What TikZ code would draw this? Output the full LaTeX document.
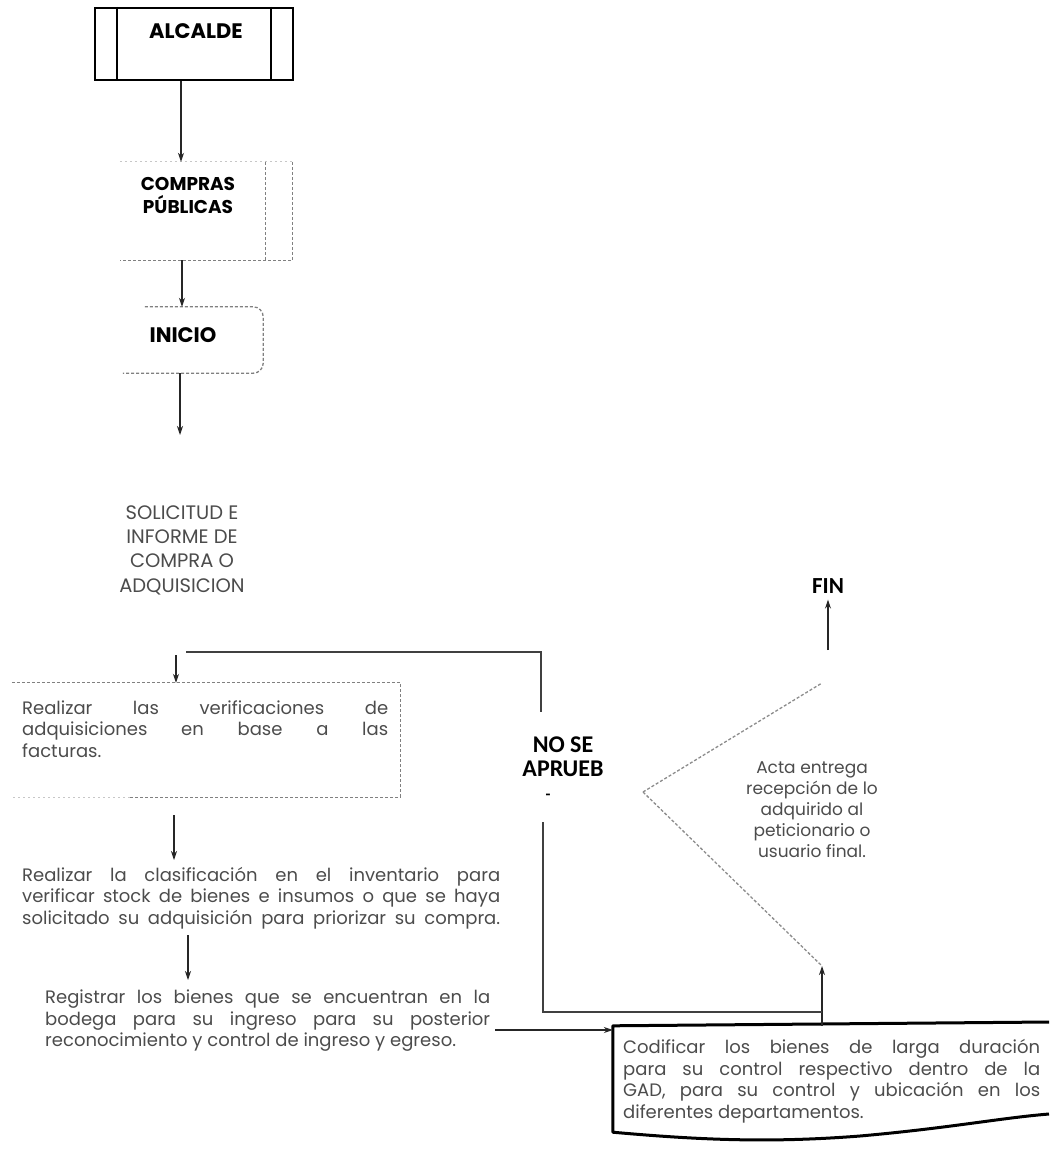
\documentclass[tikz,border=0pt]{standalone}
\usepackage{fontspec}
\setmainfont{Poppins}
\newfontfamily\carl{Carlito}
\usetikzlibrary{arrows.meta,calc}
\newcommand{\jln}[2]{\makebox[#1][s]{#2}}
\begin{document}
\begin{tikzpicture}[x=1pt,y=-1pt,
  arr/.style={-{Stealth[length=9pt,width=6pt]}, line width=1.1pt, black!85},
  plain/.style={line width=1.1pt, black!75},
  dbox/.style={draw=black!50, line width=1.3pt, dash pattern=on 3pt off 2pt},
  faint/.style={draw=black!22, line width=1.1pt, dash pattern=on 2pt off 3pt},
  body/.style={font=\fontsize{18}{21.5}\selectfont, text=black!70, inner sep=0pt, align=left},
  bodyc/.style={font=\fontsize{17}{21}\selectfont, text=black!70, inner sep=0pt, align=center},
  ttl/.style={font=\fontsize{21}{23}\selectfont\bfseries, inner sep=0pt, align=center},
  cttl/.style={font=\carl\fontsize{24}{24}\selectfont\bfseries, inner sep=0pt, align=center}]
\fill[white] (0,0) rectangle (1049,1150);
\useasboundingbox (0,0) rectangle (1049,1150);

% ALCALDE
\node[draw, line width=2.4pt, minimum width=198pt, minimum height=72pt, inner sep=0pt] (alc) at (194,44) {};
\draw[line width=2.2pt] ([xshift=23pt]alc.north west) -- ([xshift=23pt]alc.south west);
\draw[line width=2.2pt] ([xshift=-23pt]alc.north east) -- ([xshift=-23pt]alc.south east);
\node[ttl] (alct) at (196,31) {ALCALDE};

% COMPRAS PUBLICAS
\node[inner sep=0pt, minimum width=172pt, minimum height=98pt] (comp) at (206,211) {};
\draw[dbox] (comp.north east) -- (comp.south east) -- (comp.south west);
\draw[dbox] ([xshift=-27pt]comp.north east) -- ([xshift=-27pt]comp.south east);
\draw[faint] (comp.north west) -- (comp.north east);
\node[ttl, font=\fontsize{18.5}{23}\selectfont\bfseries] (compt) at (188,195) {COMPRAS\\PÚBLICAS};

% INICIO
\node[inner sep=0pt, minimum width=140pt, minimum height=66pt] (ini) at (193,340) {};
\draw[dbox, rounded corners=10pt] ([xshift=22pt]ini.north west) -- (ini.north east) -- (ini.south east) -- (ini.south west);
\node[ttl] (init) at (183,335) {INICIO};

% SOLICITUD
\node[bodyc, font=\fontsize{19.5}{24.3}\selectfont] (sol) at (182,550) {SOLICITUD E\\INFORME DE\\COMPRA O\\ADQUISICION};

% Facturas box
\node[inner sep=0pt, minimum width=388pt, minimum height=114pt] (fac) at (206,740) {};
\draw[dbox] (fac.north west) -- (fac.north east) -- (fac.south east) -- ([xshift=118pt]fac.south west);
\draw[faint] ([xshift=118pt]fac.south west) -- (fac.south west);
\node[body, anchor=west] (fact) at (22,729) {\jln{366pt}{Realizar las verificaciones de}\\\jln{366pt}{adquisiciones en base a las}\\facturas.};

% Clasificacion
\node[body, anchor=west] (clas) at (22,898) {\jln{478pt}{Realizar la clasificación en el inventario para}\\\jln{478pt}{verificar stock de bienes e insumos o que se haya}\\\jln{478pt}{solicitado su adquisición para priorizar su compra.}};

% Registrar
\node[body, anchor=west] (reg) at (45,1021) {\jln{445pt}{Registrar los bienes que se encuentran en la}\\\jln{445pt}{bodega para su ingreso para su posterior}\\reconocimiento y control de ingreso y egreso.};

% Codificar box
\node[inner sep=0pt, minimum width=436pt, minimum height=104pt] (cod) at (831,1078) {};
\draw[line width=3pt, line join=round] (cod.east |- 0,1022) -- (cod.north west) -- ([yshift=-2pt]cod.south west)
  .. controls (700,1140) and (770,1143) .. (860,1136) .. controls (950,1128) and (1000,1118) .. (1049,1114);
\node[body, anchor=west] (codt) at (623,1081) {\jln{417pt}{Codificar los bienes de larga duración}\\\jln{417pt}{para su control respectivo dentro de la}\\\jln{417pt}{GAD, para su control y ubicación en los}\\diferentes departamentos.};

% Decision (Acta entrega)
\coordinate (dl) at (643,792);
\coordinate (dt) at (822,683);
\coordinate (db) at (822,966);
\draw[dbox, draw=black!45] (dl) -- (dt);
\draw[dbox, draw=black!45] (dl) -- (db);
\node[bodyc] (acta) at (812,810) {Acta entrega\\recepción de lo\\adquirido al\\peticionario o\\usuario final.};

% NO SE APRUEB
\node[cttl] (nose) at (563,757) {NO SE\\APRUEB};
\node[cttl, font=\carl\fontsize{16}{16}\selectfont\bfseries] (dash) at (548,797) {-};

% FIN
\node[cttl, font=\carl\fontsize{23}{23}\selectfont\bfseries] (fin) at (828,586) {FIN};
\coordinate (fa) at (828,650);

% connectors
\draw[arr] ([xshift=-13pt]alc.south) -- ([xshift=-25pt]comp.north);
\draw[arr] ([xshift=-24pt]comp.south) -- ([xshift=-11pt]ini.north);
\coordinate (a3) at (180,435);
\draw[arr] ([xshift=-13pt]ini.south) -- (a3);
\coordinate (a4) at (176,655);
\draw[arr] (a4) -- (a4 |- fac.north);
\coordinate (a5) at (174,815);
\draw[arr] (a5) -- (174,860);
\coordinate (a6) at (188,935);
\draw[arr] (a6) -- (188,980);
\coordinate (h1) at (495,1030);
\draw[arr] (h1) -- (h1 -| cod.west);
\draw[arr] (cod.north -| db) -- (db);
\draw[arr] (fa) -- ([yshift=-6pt]fin.south);
% feedback loop
\coordinate (l1) at (186,652);
\coordinate (l2) at (541,712);
\draw[plain] (l1) -- (l1 -| l2) -- (l2);
\coordinate (m1) at (543,822);
\coordinate (m2) at (822,1012);
\draw[plain] (m1) -- (m1 |- m2) -- (m2);
\end{tikzpicture}
\end{document}
